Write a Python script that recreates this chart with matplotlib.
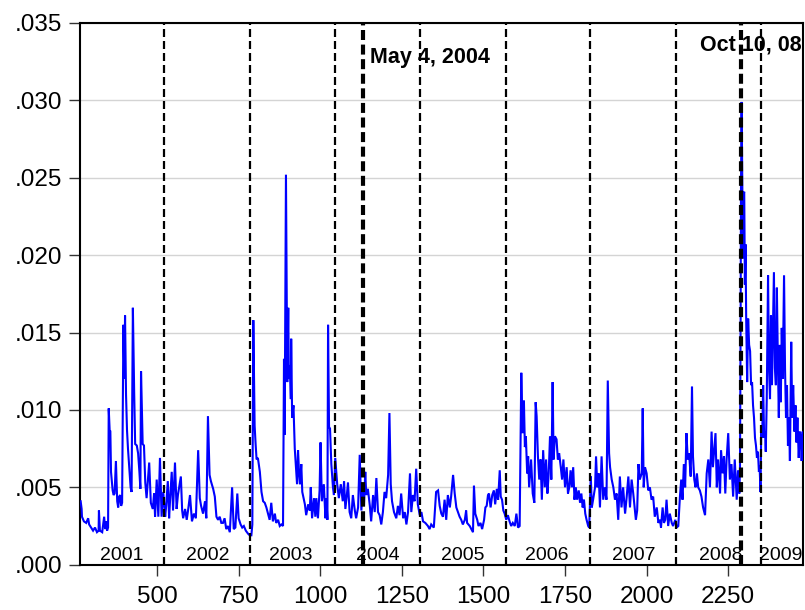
import numpy as np
import matplotlib
matplotlib.use("Agg")
import matplotlib.pyplot as plt
from matplotlib.ticker import FuncFormatter, FixedLocator

plt.rcParams['font.family'] = ['Liberation Sans', 'DejaVu Sans']

obs_2001 = [266, 269, 270, 276, 283, 289, 292, 298, 304, 310, 316, 321, 322, 325, 332, 338, 341, 344, 347, 350,
            352, 355, 357, 359, 364, 367, 370, 374, 378, 381, 384, 387, 390, 393, 397, 400, 402, 405, 408, 411,
            416, 419, 422, 426, 430, 433, 438, 442, 446, 449, 451, 456, 460, 464, 468, 476, 481, 487, 491, 494,
            499, 504, 509, 514, 519, 525]
vol_2001 = [4.1, 3.6, 3.1, 2.8, 2.7, 3.0, 2.6, 2.4, 2.2, 2.4, 2.1, 2.2, 3.5, 2.2, 2.1, 3.1, 2.3, 2.8, 2.2, 2.4,
            10.1, 8.6, 8.6, 6.0, 4.8, 4.5, 4.6, 6.7, 4.1, 3.7, 4.4, 4.5, 3.8, 4.0, 15.5, 12.0, 16.1, 11.0, 8.7, 7.5,
            6.0, 5.0, 4.7, 16.6, 11.1, 7.8, 7.7, 7.2, 6.0, 4.9, 12.5, 7.8, 7.7, 5.3, 4.3, 6.6, 4.0, 3.6, 4.6, 3.1,
            5.5, 3.1, 6.9, 3.1, 4.7, 3.1]

obs_2002 = [528, 533, 537, 540, 545, 549, 555, 560, 564, 573, 577, 580, 586, 591, 595, 601, 607, 613, 619, 626,
            631, 635, 641, 647, 651, 656, 661, 665, 672, 677, 682, 687, 692, 697, 702, 707, 712, 717, 723, 730,
            735, 740, 746, 750, 756, 761, 766, 772, 779, 784, 789, 792]
vol_2002 = [3.8, 5.4, 3.0, 4.2, 6.0, 3.5, 6.6, 3.6, 4.5, 5.7, 3.5, 3.0, 3.6, 2.9, 3.5, 4.5, 2.8, 3.3, 3.0, 7.4,
            4.3, 3.8, 3.3, 4.1, 3.0, 9.6, 5.8, 5.4, 4.9, 4.4, 3.1, 2.9, 3.1, 2.7, 2.7, 3.0, 2.3, 2.5, 2.1, 5.0,
            2.3, 2.4, 4.6, 3.0, 2.6, 2.4, 2.5, 2.2, 2.0, 1.9, 1.9, 2.6]

obs_2003 = [795, 799, 802, 805, 809, 815, 820, 825, 830, 835, 840, 845, 850, 855, 861, 865, 871, 876, 881, 886,
            889, 891, 895, 899, 902, 904, 907, 910, 911, 914, 918, 922, 925, 929, 932, 935, 938, 942, 945, 949,
            953, 957, 963, 968, 971, 975, 981, 985, 988, 993, 998, 1001, 1005, 1011, 1016, 1019, 1022, 1024, 1027, 1030,
            1034, 1039, 1042, 1046, 1052]
vol_2003 = [15.8, 9.0, 7.8, 6.8, 6.9, 6.0, 4.7, 4.1, 4.0, 3.7, 3.3, 2.9, 4.0, 2.8, 3.3, 2.7, 2.9, 2.5, 2.6, 2.5,
            13.3, 8.4, 25.2, 11.8, 16.6, 12.0, 12.9, 10.7, 14.6, 9.5, 10.3, 7.5, 6.5, 5.2, 7.4, 6.0, 5.2, 6.5, 4.7, 4.3,
            3.9, 3.2, 3.9, 3.5, 5.0, 3.0, 4.3, 3.1, 4.3, 3.0, 4.8, 7.9, 4.1, 5.2, 3.0, 4.3, 2.9, 15.5, 8.9, 8.8,
            6.5, 5.0, 4.5, 6.9, 5.2]

obs_2004 = [1057, 1063, 1069, 1073, 1077, 1082, 1085, 1090, 1095, 1100, 1106, 1110, 1116, 1121, 1126, 1131, 1134, 1138, 1141, 1146,
            1152, 1156, 1162, 1167, 1172, 1177, 1182, 1187, 1192, 1197, 1202, 1208, 1212, 1216, 1220, 1226, 1233, 1238, 1243, 1248,
            1254, 1259, 1264, 1269, 1275, 1279, 1284, 1289, 1294, 1299, 1305, 1310]
vol_2004 = [4.3, 5.2, 4.1, 5.4, 3.6, 4.6, 5.3, 3.4, 3.0, 4.5, 3.5, 3.0, 3.7, 7.1, 3.5, 5.2, 3.8, 6.0, 4.5, 4.9,
            3.8, 2.8, 4.5, 3.4, 5.6, 3.4, 3.2, 2.6, 3.4, 4.7, 4.3, 5.8, 9.8, 5.2, 4.1, 3.4, 3.0, 3.8, 3.2, 4.6,
            3.0, 3.4, 2.6, 3.4, 5.9, 3.4, 4.5, 4.1, 6.2, 3.9, 3.2, 3.4]

obs_2005 = [1315, 1322, 1330, 1335, 1340, 1348, 1355, 1361, 1366, 1371, 1376, 1381, 1386, 1391, 1397, 1401, 1407, 1412, 1417, 1422,
            1427, 1432, 1437, 1443, 1447, 1450, 1458, 1463, 1468, 1471, 1475, 1481, 1485, 1491, 1496, 1502, 1506, 1510, 1514, 1517,
            1522, 1527, 1532, 1536, 1541, 1545, 1550, 1553, 1557, 1561, 1565, 1570, 1575, 1580, 1585, 1590, 1596, 1601, 1606, 1611]
vol_2005 = [2.8, 2.7, 2.5, 2.3, 2.6, 2.4, 4.7, 4.8, 3.8, 3.3, 3.1, 4.2, 2.9, 4.5, 3.7, 4.4, 5.8, 4.6, 3.7, 3.4,
            3.1, 2.9, 2.6, 2.9, 3.5, 2.7, 2.5, 2.3, 2.1, 5.1, 3.3, 2.9, 2.5, 2.7, 2.3, 2.9, 3.7, 3.8, 4.5, 4.6,
            3.7, 4.5, 4.8, 3.9, 4.9, 4.2, 6.1, 4.4, 4.2, 3.5, 3.3, 2.9, 3.2, 2.8, 2.5, 2.7, 2.5, 3.3, 2.4, 2.5]

obs_2006 = [1616, 1620, 1624, 1627, 1630, 1634, 1637, 1640, 1646, 1651, 1656, 1660, 1663, 1667, 1671, 1675, 1679, 1683, 1688, 1692,
            1696, 1700, 1704, 1708, 1712, 1715, 1719, 1724, 1728, 1732, 1737, 1741, 1745, 1750, 1755, 1759, 1763, 1767, 1771, 1775,
            1779, 1783, 1787, 1792, 1796, 1800, 1804, 1808, 1812, 1816, 1821, 1824]
vol_2006 = [12.4, 8.5, 10.6, 7.6, 8.3, 5.9, 7.0, 5.0, 6.8, 4.6, 4.0, 10.5, 9.6, 7.0, 5.5, 6.8, 4.2, 7.4, 5.0, 6.8,
            4.6, 5.9, 8.3, 5.5, 11.8, 6.8, 8.3, 8.1, 6.8, 7.2, 6.3, 5.5, 6.8, 5.0, 6.3, 4.6, 5.0, 6.1, 5.0, 6.3,
            4.2, 5.0, 4.2, 4.8, 4.0, 4.6, 3.7, 4.2, 3.3, 2.9, 2.5, 2.4]

obs_2007 = [1829, 1832, 1836, 1842, 1845, 1849, 1853, 1857, 1862, 1867, 1872, 1877, 1881, 1885, 1888, 1893, 1898, 1903, 1908, 1913,
            1918, 1923, 1928, 1934, 1939, 1944, 1949, 1954, 1959, 1964, 1967, 1971, 1975, 1979, 1985, 1988, 1991, 1995, 2000, 2005,
            2010, 2015, 2020, 2025, 2031, 2036, 2041, 2044, 2049, 2053, 2057, 2061, 2066, 2071, 2077, 2081, 2088, 2092, 2097]
vol_2007 = [5.7, 3.7, 4.2, 5.0, 7.0, 5.0, 5.9, 3.7, 7.0, 4.2, 5.0, 4.2, 11.9, 7.2, 6.3, 5.5, 5.0, 4.2, 4.6, 2.9,
            5.7, 3.7, 5.0, 3.3, 4.4, 5.7, 3.7, 5.5, 4.6, 3.5, 2.9, 3.5, 6.5, 5.5, 5.9, 10.1, 5.0, 6.3, 5.9, 4.8,
            5.0, 4.2, 4.4, 3.1, 3.7, 2.7, 2.9, 2.4, 3.7, 2.7, 2.9, 4.2, 2.5, 3.3, 2.7, 2.5, 2.9, 2.4, 2.5]

obs_2008 = [2102, 2106, 2110, 2114, 2118, 2122, 2126, 2130, 2135, 2139, 2142, 2146, 2150, 2154, 2158, 2163, 2168, 2173, 2179, 2184,
            2189, 2194, 2199, 2203, 2207, 2211, 2215, 2219, 2225, 2228, 2233, 2237, 2241, 2245, 2250, 2255, 2260, 2265, 2270, 2276,
            2280, 2284, 2286,
            2288, 2289, 2291, 2293, 2295, 2297, 2299, 2301, 2303, 2305, 2308, 2311, 2314, 2317, 2320, 2323, 2326, 2329, 2332, 2335,
            2338, 2341, 2344, 2346, 2349]
vol_2008 = [4.4, 5.5, 4.2, 6.5, 5.0, 8.5, 6.8, 7.2, 5.7, 11.5, 7.0, 5.5, 5.0, 5.9, 5.0, 4.8, 4.4, 3.7, 3.2, 5.9,
            6.8, 5.0, 8.6, 6.3, 7.4, 8.5, 5.0, 6.8, 4.6, 7.4, 5.9, 7.0, 4.6, 6.8, 8.5, 5.5, 6.5, 4.4, 6.8, 4.2,
            6.1, 4.6, 6.2,
            15.9, 24.1, 29.9, 24.5, 19.8, 23.9, 24.1, 18.1, 20.7, 15.9, 11.8, 15.9, 14.2, 13.8, 11.6, 11.8, 10.3, 9.5, 8.2, 7.7,
            6.9, 7.3, 6.0, 6.4, 4.7]

obs_2009 = [2351, 2354, 2357, 2360, 2363, 2365, 2368, 2372, 2375, 2378, 2381, 2384, 2387, 2390, 2393, 2396, 2399, 2402, 2405, 2408,
            2411, 2414, 2417, 2421, 2424, 2427, 2430, 2433, 2436, 2439, 2443, 2446, 2449, 2453, 2456, 2459, 2462, 2466, 2469, 2472,
            2475, 2478, 2480]
vol_2009 = [8.6, 8.2, 11.6, 8.2, 8.6, 7.3, 10.7, 18.7, 12.7, 10.7, 16.1, 11.6, 15.1, 18.9, 12.7, 11.6, 17.9, 13.3, 9.5, 14.2,
            10.5, 15.3, 12.0, 18.7, 12.7, 9.5, 11.6, 7.7, 9.5, 6.7, 14.4, 9.5, 11.6, 8.6, 10.3, 7.9, 9.5, 6.9, 8.6, 8.2,
            6.7, 8.6, 7.1]

year_bounds = [522, 785, 1045, 1307, 1568, 1828, 2090, 2351]
event_obs = [1132, 2289]
event_labels = ["May 4, 2004", "Oct 10, 08"]
event_label_x = [1152, 2163]
event_label_y = [0.0324, 0.03325]
year_labels = ["2001", "2002", "2003", "2004", "2005", "2006", "2007", "2008", "2009"]
year_label_x = [392, 655, 910, 1177, 1437, 1695, 1960, 2226, 2411]
x_ticks = [500, 750, 1000, 1250, 1500, 1750, 2000, 2250]
y_ticks = [0.000, 0.005, 0.010, 0.015, 0.020, 0.025, 0.030, 0.035]

obs = np.concatenate([obs_2001, obs_2002, obs_2003, obs_2004, obs_2005,
                      obs_2006, obs_2007, obs_2008, obs_2009])
vol = np.concatenate([vol_2001, vol_2002, vol_2003, vol_2004, vol_2005,
                      vol_2006, vol_2007, vol_2008, vol_2009]) * 1e-3

# ---- figure ----
fig = plt.figure(figsize=(8.05, 6.10), dpi=100)
ax = fig.add_axes([80 / 805, 45.3 / 610, 723.3 / 805, 541.7 / 610])

ax.plot(obs, vol, color='#0000ff', lw=1.5, zorder=3, solid_joinstyle='miter')

for xb in year_bounds:
    ax.axvline(xb, color='black', lw=1.6, ls=(0, (3.6, 1.8)), zorder=4)
for xe in event_obs:
    ax.axvline(xe, color='black', lw=3.0, ls=(0, (2.4, 1.1)), zorder=4)

for lab, xl, yl in zip(event_labels, event_label_x, event_label_y):
    ax.text(xl, yl, lab, fontsize=15.5, fontweight='bold', ha='left', va='baseline', zorder=5)

for lab, xl in zip(year_labels, year_label_x):
    ax.text(xl, 0.0003, lab, fontsize=14, ha='center', va='baseline', zorder=5)

ax.set_xlim(264, 2480)
ax.set_ylim(0, 0.035)
ax.xaxis.set_major_locator(FixedLocator(x_ticks))
ax.yaxis.set_major_locator(FixedLocator(y_ticks))
ax.yaxis.set_major_formatter(FuncFormatter(lambda v, p: f"{v:.3f}"[1:]))
ax.xaxis.set_major_formatter(FuncFormatter(lambda v, p: f"{int(round(v))}"))

ax.yaxis.grid(True, color='#d4d4d4', lw=1.0)
ax.set_axisbelow(True)
ax.tick_params(axis='both', direction='out', length=8, width=1.0, labelsize=17.5, color='#333333')
ax.tick_params(axis='y', pad=5)
ax.tick_params(axis='x', pad=7)
for s in ax.spines.values():
    s.set_linewidth(1.5)
    s.set_color('black')

fig.savefig("out.png", dpi=100)
